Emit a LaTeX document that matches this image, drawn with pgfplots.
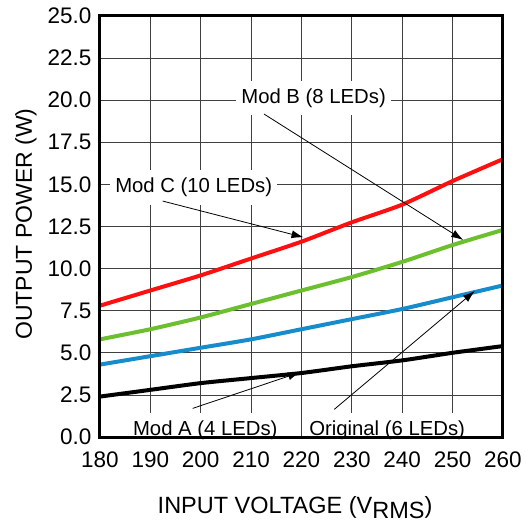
\documentclass[border=0pt]{standalone}
\usepackage{fontspec}
\setmainfont{Liberation Sans}
\usepackage{pgfplots}
\pgfplotsset{compat=1.18}
\usetikzlibrary{arrows.meta}
\definecolor{cred}{HTML}{FF1010}
\definecolor{cgreen}{HTML}{6CBF2E}
\definecolor{cblue}{HTML}{168CCC}
\tikzset{
  lbl/.style={font=\fontsize{20.3bp}{24bp}\selectfont, fill=white, inner xsep=5bp, inner ysep=8bp, anchor=base},
  arr/.style={line width=0.8bp, -{Latex[length=12bp,width=8bp]}},
}
\begin{document}
\begin{tikzpicture}
\begin{axis}[
  width=403bp, height=421bp, scale only axis,
  xmin=180, xmax=260, ymin=0, ymax=25,
  xtick={180,190,200,210,220,230,240,250,260},
  ytick={0,2.5,5,7.5,10,12.5,15,17.5,20,22.5,25},
  grid=major,
  major grid style={black!75, line width=0.8bp},
  axis line style={line width=3bp},
  major tick length=0pt,
  tick label style={font=\fontsize{22.5bp}{26bp}\selectfont},
  /pgf/number format/assume math mode=true,
  yticklabel style={/pgf/number format/fixed, /pgf/number format/fixed zerofill, /pgf/number format/precision=1, xshift=-5bp},
  xticklabel style={yshift=-11bp},
  clip=false,
  every axis plot/.append style={line width=4bp, smooth, tension=0.4},
]
\addplot[cred] coordinates {(180,7.8) (190,8.7) (200,9.6) (210,10.6) (220,11.6) (230,12.75) (240,13.8) (250,15.2) (260,16.5)};
\addplot[cgreen] coordinates {(180,5.8) (190,6.4) (200,7.1) (210,7.9) (220,8.7) (230,9.5) (240,10.4) (250,11.4) (260,12.3)};
\addplot[cblue] coordinates {(180,4.3) (190,4.8) (200,5.3) (210,5.8) (220,6.4) (230,7.0) (240,7.6) (250,8.3) (260,9.0)};
\addplot[black] coordinates {(180,2.4) (190,2.8) (200,3.2) (210,3.5) (220,3.8) (230,4.2) (240,4.55) (250,5.0) (260,5.4)};

\node[lbl] at (axis cs:222.4,19.82) {Mod B (8 LEDs)};
\node[lbl] at (axis cs:198.6,14.5) {Mod C (10 LEDs)};
\node[lbl] at (axis cs:200.9,0.1) {Mod A (4 LEDs)};
\node[lbl] at (axis cs:237.0,0.06) {Original (6 LEDs)};

\draw[arr] (axis cs:192.45,14.01) -- (axis cs:220.4,11.86);
\draw[arr] (axis cs:212.55,19.18) -- (axis cs:252.1,11.70);
\draw[arr] (axis cs:198.4,1.70) -- (axis cs:219.7,3.84);
\draw[arr] (axis cs:226.5,1.64) -- (axis cs:254.4,8.67);

\draw[line width=3bp] (rel axis cs:0,0) rectangle (rel axis cs:1,1);

\node[font=\fontsize{23.5bp}{26bp}\selectfont, anchor=base] at ([yshift=-76bp]rel axis cs:0.484,0) {INPUT VOLTAGE (V\raisebox{-5bp}{RMS})};
\node[font=\fontsize{23bp}{26bp}\selectfont, anchor=base, rotate=90] at ([xshift=-68bp]rel axis cs:0,0.506) {OUTPUT POWER (W)};
\end{axis}
\pgfresetboundingbox
\useasboundingbox (-100bp,-90bp) rectangle (425bp,437bp);
\end{tikzpicture}
\end{document}
